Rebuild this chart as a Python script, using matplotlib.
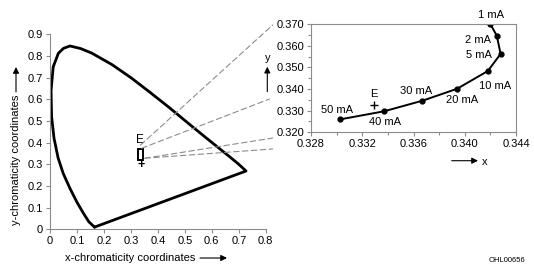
import matplotlib
matplotlib.use('Agg')
import matplotlib.pyplot as plt
from matplotlib.patches import Rectangle, ConnectionPatch

plt.rcParams['font.family'] = ['Liberation Sans Narrow', 'Liberation Sans', 'DejaVu Sans']
plt.rcParams['font.size'] = 8

# spectral locus (blue end -> red end)
locus_x = [0.165, 0.144, 0.124, 0.100, 0.074, 0.049, 0.030, 0.015, 0.006, 0.004,
           0.012, 0.031, 0.050, 0.074, 0.114, 0.155, 0.230, 0.302, 0.373, 0.444,
           0.512, 0.575, 0.627, 0.669, 0.700, 0.727]
locus_y = [0.010, 0.035, 0.074, 0.125, 0.189, 0.258, 0.330, 0.420, 0.520, 0.640,
           0.750, 0.812, 0.835, 0.846, 0.834, 0.813, 0.760, 0.698, 0.630, 0.560,
           0.490, 0.426, 0.374, 0.332, 0.300, 0.269]

# colour shift vs. forward current (zoomed panel)
currents = ['1 mA', '2 mA', '5 mA', '10 mA', '20 mA', '30 mA', '40 mA', '50 mA']
shift_x = [0.3420, 0.3425, 0.3428, 0.3418, 0.3394, 0.3367, 0.3337, 0.3303]
shift_y = [0.3700, 0.3646, 0.3562, 0.3483, 0.3401, 0.3346, 0.3297, 0.3260]
# label offsets in pixels
lbl_off = [(1, 9), (-19, -4), (-22, -1), (7, -15), (5, -11), (-6, 10), (1, -11), (-3, 9)]

e_point = (0.3329, 0.3328)

zoom_x = (0.328, 0.344)
zoom_y = (0.320, 0.370)

main_xticks = [0, 0.1, 0.2, 0.3, 0.4, 0.5, 0.6, 0.7, 0.8]
main_xlabels = ['0', '0.1', '0.2', '0.3', '0.4', '0.5', '0.6', '0.7', '0.8']
main_yticks = [0, 0.1, 0.2, 0.3, 0.4, 0.5, 0.6, 0.7, 0.8, 0.9]
main_ylabels = ['0', '0.1', '0.2', '0.3', '0.4', '0.5', '0.6', '0.7', '0.8', '0.9']
zoom_xticks = [0.328, 0.332, 0.336, 0.340, 0.344]
zoom_yticks = [0.320, 0.330, 0.340, 0.350, 0.360, 0.370]

grey = '#8c8c8c'

fig = plt.figure(figsize=(5.34, 2.72), dpi=100)
ax1 = fig.add_axes([0.0936, 0.157, 0.404, 0.717])
ax2 = fig.add_axes([0.5824, 0.5136, 0.3839, 0.398])

# --- full diagram
ax1.plot(locus_x + [locus_x[0]], locus_y + [locus_y[0]], color='black', lw=2.0,
         solid_joinstyle='round', solid_capstyle='round')
ax1.add_patch(Rectangle((zoom_x[0], zoom_y[0]), zoom_x[1] - zoom_x[0], zoom_y[1] - zoom_y[0],
                        fill=False, ec='black', lw=1.4))
ax1.text(0.334, 0.413, 'E', ha='center', va='center', fontsize=8.5)
ax1.text(0.3375, 0.297, '+', ha='center', va='center', fontsize=9, fontweight='bold')
ax1.set_xlim(0, 0.8)
ax1.set_ylim(0, 0.9)
ax1.set_xticks(main_xticks, main_xlabels)
ax1.set_yticks(main_yticks, main_ylabels)
for s in ['top', 'right']:
    ax1.spines[s].set_visible(False)
for s in ['left', 'bottom']:
    ax1.spines[s].set_color(grey)
    ax1.spines[s].set_linewidth(0.8)
ax1.tick_params(length=3, width=0.8, color=grey, pad=2)

# --- zoomed panel
ax2.plot(shift_x, shift_y, color='black', lw=1.4, marker='o', ms=3.5,
         solid_joinstyle='round')
for lbl, x, y, off in zip(currents, shift_x, shift_y, lbl_off):
    ax2.annotate(lbl, (x, y), xytext=off, textcoords='offset pixels',
                 ha='center', va='center')
ax2.plot(*e_point, marker='+', color='black', ms=6, mew=1.0)
ax2.annotate('E', e_point, xytext=(0, 11), textcoords='offset pixels',
             ha='center', va='center')
ax2.set_xlim(*zoom_x)
ax2.set_ylim(*zoom_y)
ax2.set_xticks(zoom_xticks, ['%.3f' % v for v in zoom_xticks])
ax2.set_yticks(zoom_yticks, ['%.3f' % v for v in zoom_yticks])
ax2.set_xticks([0.330, 0.334, 0.338, 0.342], minor=True)
ax2.set_yticks([0.325, 0.335, 0.345, 0.355, 0.365], minor=True)
for s in ax2.spines.values():
    s.set_color(grey)
    s.set_linewidth(0.8)
ax2.tick_params(which='major', length=3, width=0.8, color=grey, pad=2)
ax2.tick_params(which='minor', length=2, width=0.8, color=grey)

# --- dashed connectors from the small box to the zoomed panel
connectors = [((0.336, 0.389), (-0.187, 0.991)),
              ((0.340, 0.374), (-0.203, 0.307)),
              ((0.352, 0.328), (-0.187, -0.053)),
              ((0.352, 0.328), (-0.187, -0.154))]
for a, b in connectors:
    con = ConnectionPatch(xyA=a, coordsA=ax1.transData, xyB=b, coordsB=ax2.transAxes,
                          color=grey, lw=0.8, linestyle=(0, (5, 3)))
    fig.add_artist(con)

# --- axis labels with arrows
arrow = dict(arrowstyle='-|>', color='black', lw=0.8, mutation_scale=9, shrinkA=0, shrinkB=0)
fig.text(130.5 / 534, 14 / 272, 'x-chromaticity coordinates', ha='center', va='center')
ax1.annotate('', xy=(227, 14), xytext=(200, 14), xycoords='figure pixels', arrowprops=arrow)
fig.text(15.7 / 534, 112 / 272, 'y-chromaticity coordinates', ha='center', va='center',
         rotation=90)
ax1.annotate('', xy=(16, 205), xytext=(16, 180), xycoords='figure pixels', arrowprops=arrow)

fig.text(267.3 / 534, 213.7 / 272, 'y', ha='center', va='center')
ax2.annotate('', xy=(267.3, 205.3), xytext=(267.3, 180.3), xycoords='figure pixels',
             arrowprops=arrow)
fig.text(485 / 534, 110.3 / 272, 'x', ha='center', va='center')
ax2.annotate('', xy=(478, 111.3), xytext=(451.7, 111.3), xycoords='figure pixels',
             arrowprops=arrow)

fig.text(506.7 / 534, 12 / 272, 'OHL00656', ha='center', va='center', fontsize=5.5)

fig.savefig('out.png', dpi=100)
